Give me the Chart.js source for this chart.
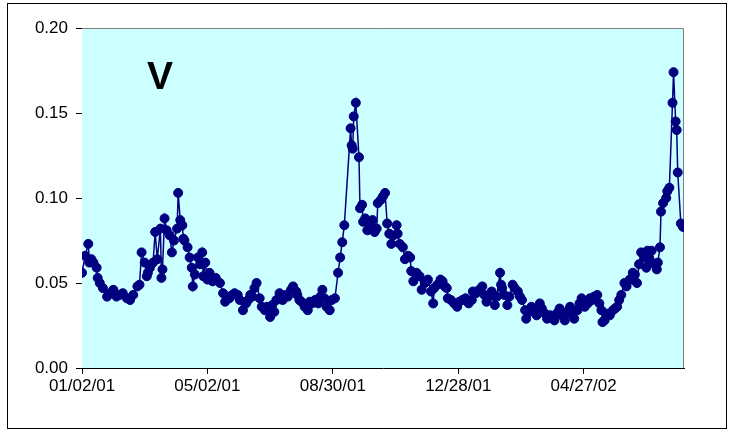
<!DOCTYPE html>
<html>
<head>
<meta charset="utf-8">
<script src="https://cdn.jsdelivr.net/npm/chart.js@4"></script>
<style>
  body { margin: 0; background: #fff; }
  #wrap { position: relative; width: 733px; height: 435px; }
  #frame { position: absolute; left: 7px; top: 3px; width: 718px; height: 424px; border: 1px solid #000; pointer-events: none; }
</style>
</head>
<body>
<div id="wrap">
  <canvas id="vChart" width="733" height="435"></canvas>
  <div id="frame"></div>
</div>
<script>
// days since 01/02/01
var days = [
    0, 3, 6, 7, 9, 11, 14, 15, 17, 20, 24, 27, 30, 33, 36, 39, 43, 46, 49, 53,
    55, 57, 60, 62, 63, 65, 68, 70, 72, 75, 76, 77, 79, 81, 84, 86, 88, 91, 92, 94,
    96, 97, 98, 101, 103, 105, 106, 108, 111, 113, 115, 116, 118, 120, 122, 125, 128, 132, 135, 137,
    140, 141, 144, 146, 149, 151, 154, 157, 159, 161, 163, 165, 167, 170, 172, 175, 177, 180, 182, 184,
    186, 189, 192, 195, 197, 200, 202, 205, 206, 208, 210, 213, 216, 218, 220, 223, 226, 228, 230, 232,
    234, 237, 239, 242, 245, 247, 249, 251, 257, 258, 259, 260, 262, 265, 266, 268, 269, 271, 273, 275,
    278, 280, 282, 283, 286, 288, 290, 292, 294, 296, 298, 301, 302, 304, 307, 309, 312, 314, 315, 317,
    320, 323, 325, 328, 330, 331, 334, 336, 337, 340, 343, 345, 347, 349, 350, 353, 356, 359, 361, 364,
    367, 370, 373, 374, 377, 380, 383, 385, 387, 390, 392, 395, 397, 400, 401, 402, 404, 407, 409, 412,
    414, 417, 419, 421, 424, 425, 428, 430, 433, 435, 438, 440, 443, 445, 448, 452, 454, 457, 459, 462,
    464, 467, 468, 471, 474, 476, 478, 481, 484, 486, 488, 490, 493, 495, 497, 498, 500, 502, 505, 508,
    510, 512, 514, 516, 519, 521, 524, 526, 527, 529, 531, 533, 535, 538, 540, 541, 543, 545, 548, 550,
    551, 553, 554, 556, 559, 560, 562, 565, 566, 568, 569, 570, 573, 575
];
var values = [
    0.056, 0.066, 0.073, 0.062, 0.064, 0.062, 0.059, 0.053, 0.050, 0.047, 0.042, 0.044, 0.046, 0.042, 0.043, 0.044, 0.041, 0.040, 0.043, 0.048,
    0.049, 0.068, 0.062, 0.054, 0.056, 0.059, 0.062, 0.080, 0.064, 0.082, 0.053, 0.058, 0.088, 0.081, 0.078, 0.068, 0.075, 0.082, 0.103, 0.087,
    0.084, 0.076, 0.075, 0.071, 0.065, 0.059, 0.048, 0.055, 0.065, 0.061, 0.068, 0.054, 0.062, 0.052, 0.056, 0.051, 0.053, 0.050, 0.044, 0.039,
    0.042, 0.041, 0.043, 0.044, 0.043, 0.040, 0.034, 0.038, 0.040, 0.043, 0.042, 0.047, 0.050, 0.041, 0.036, 0.034, 0.036, 0.030, 0.037, 0.033,
    0.040, 0.044, 0.040, 0.043, 0.042, 0.046, 0.048, 0.045, 0.043, 0.040, 0.039, 0.036, 0.034, 0.039, 0.038, 0.040, 0.038, 0.042, 0.046, 0.041,
    0.036, 0.034, 0.040, 0.041, 0.056, 0.065, 0.074, 0.084, 0.141, 0.131, 0.129, 0.148, 0.156, 0.124, 0.094, 0.096, 0.086, 0.088, 0.081, 0.085,
    0.087, 0.080, 0.082, 0.097, 0.099, 0.101, 0.103, 0.085, 0.079, 0.073, 0.078, 0.084, 0.079, 0.073, 0.071, 0.064, 0.066, 0.065, 0.057, 0.051,
    0.056, 0.054, 0.046, 0.050, 0.051, 0.052, 0.045, 0.038, 0.047, 0.049, 0.052, 0.051, 0.048, 0.047, 0.041, 0.040, 0.038, 0.036, 0.039, 0.040,
    0.041, 0.038, 0.040, 0.045, 0.044, 0.046, 0.048, 0.043, 0.039, 0.042, 0.045, 0.037, 0.042, 0.056, 0.049, 0.047, 0.043, 0.037, 0.042, 0.049,
    0.047, 0.045, 0.042, 0.040, 0.034, 0.029, 0.033, 0.036, 0.034, 0.031, 0.038, 0.035, 0.032, 0.029, 0.031, 0.028, 0.032, 0.035, 0.031, 0.028,
    0.033, 0.036, 0.032, 0.029, 0.034, 0.038, 0.041, 0.036, 0.038, 0.041, 0.040, 0.042, 0.043, 0.038, 0.034, 0.027, 0.028, 0.032, 0.031, 0.034,
    0.035, 0.036, 0.040, 0.043, 0.050, 0.048, 0.052, 0.052, 0.056, 0.055, 0.050, 0.061, 0.068, 0.065, 0.059, 0.069, 0.064, 0.069, 0.061, 0.058,
    0.062, 0.071, 0.092, 0.097, 0.100, 0.104, 0.106, 0.156, 0.174, 0.145, 0.140, 0.115, 0.085, 0.083
];
var tickDays = [0, 120, 240, 360, 480];
var tickLabels = ['01/02/01', '05/02/01', '08/30/01', '12/28/01', '04/27/02'];
var yTicks = [0, 0.05, 0.10, 0.15, 0.20];

var points = days.map(function (d, i) { return { x: d, y: values[i] }; });

// cyan plot area with grey frame, plus the "V" caption
var plotArea = {
    id: 'plotArea',
    beforeDatasetsDraw: function (chart) {
        var a = chart.chartArea, ctx = chart.ctx;
        ctx.save();
        ctx.fillStyle = '#CCFFFF';
        ctx.fillRect(a.left, a.top, a.right - a.left, a.bottom - a.top);
        ctx.strokeStyle = '#808080';
        ctx.lineWidth = 1;
        ctx.beginPath();
        ctx.moveTo(a.left, a.top + 0.5);
        ctx.lineTo(a.right - 0.5, a.top + 0.5);
        ctx.lineTo(a.right - 0.5, a.bottom);
        ctx.stroke();
        ctx.fillStyle = '#000';
        ctx.font = 'bold 39px "Liberation Sans", Arial, sans-serif';
        ctx.textBaseline = 'alphabetic';
        ctx.fillText('V', a.left + 65, a.top + 61);
        ctx.restore();
    }
};

var font = { family: '"Liberation Sans", Arial, sans-serif', size: 17 };

var el = document.getElementById('vChart').getContext('2d');
var vChart = new Chart(el, {
    type: 'line',
    data: {
        datasets: [{
            data: points,
            borderColor: '#000080',
            backgroundColor: '#000080',
            borderWidth: 1.5,
            pointRadius: 4.5,
            pointBorderWidth: 1,
            pointBackgroundColor: '#000080',
            pointBorderColor: '#000080',
            lineTension: 0
        }]
    },
    options: {
        responsive: false,
        animation: false,
        layout: { padding: { left: 0, top: 28, right: 49, bottom: 0 } },
        plugins: { legend: { display: false }, tooltip: { enabled: false } },
        scales: {
            x: {
                type: 'linear',
                min: 0,
                max: 576,
                afterFit: function (s) { s.height = 67; },
                afterBuildTicks: function (s) { s.ticks = tickDays.map(function (v) { return { value: v }; }); },
                ticks: {
                    font: font,
                    color: '#000',
                    padding: 2,
                    maxRotation: 0,
                    autoSkip: false,
                    callback: function (v, i) { return tickLabels[i]; }
                },
                grid: { drawOnChartArea: false, drawTicks: true, tickLength: 6, color: '#000' },
                border: { color: '#000', width: 1 }
            },
            y: {
                min: 0,
                max: 0.2,
                afterFit: function (s) { s.width = 82; },
                afterBuildTicks: function (s) { s.ticks = yTicks.map(function (v) { return { value: v }; }); },
                ticks: {
                    font: font,
                    color: '#000',
                    padding: 8,
                    callback: function (v) { return v.toFixed(2); }
                },
                grid: { drawOnChartArea: false, drawTicks: true, tickLength: 6, color: '#000' },
                border: { color: '#000', width: 1 }
            }
        }
    },
    plugins: [plotArea]
});
</script>
</body>
</html>
